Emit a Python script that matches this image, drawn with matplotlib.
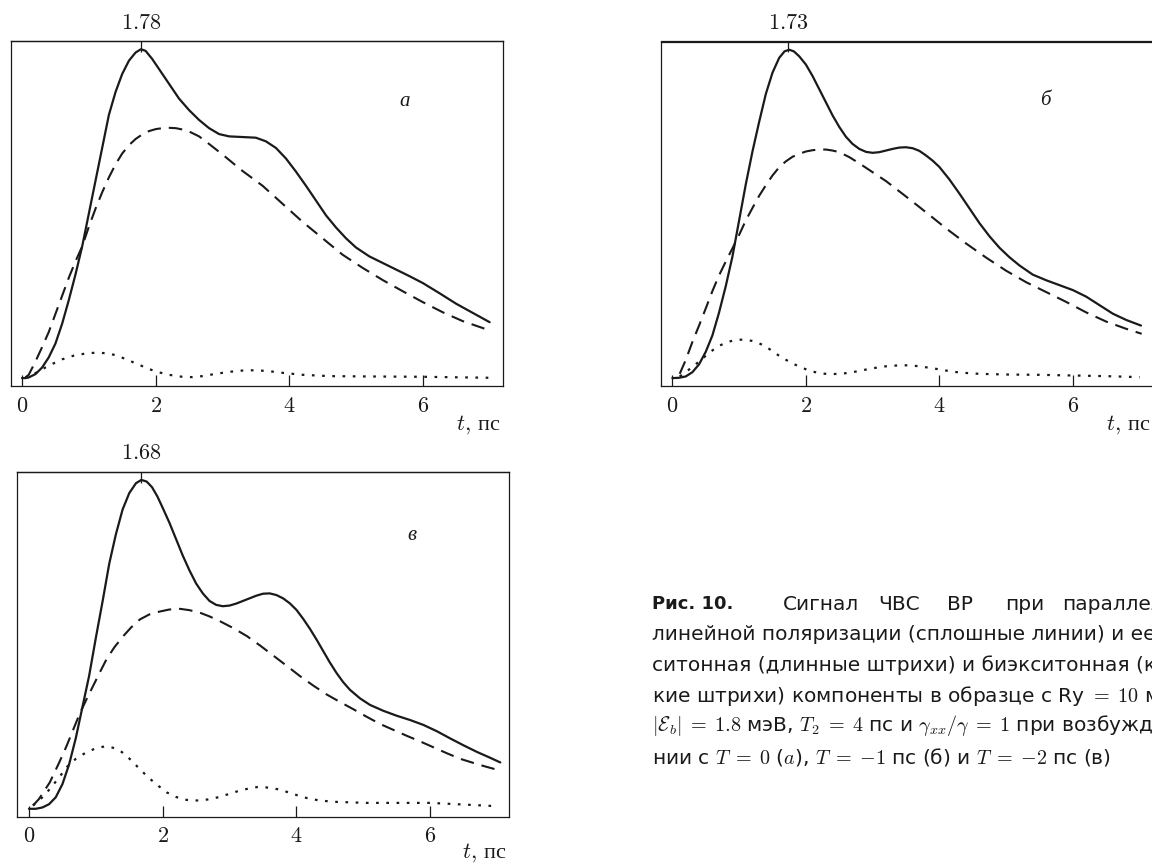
import matplotlib
matplotlib.use("Agg")
import matplotlib.pyplot as plt

plt.rcParams['mathtext.fontset'] = 'cm'

# ---------------- data ----------------
# Panel а
a_solid_t = [0.0, 0.05, 0.1, 0.2, 0.3, 0.4, 0.5, 0.6, 0.7, 0.8, 0.9, 1.0, 1.1, 1.2, 1.3, 1.4, 1.5, 1.6, 1.7, 1.78, 1.85, 1.95, 2.05, 2.2, 2.35, 2.5, 2.65, 2.8, 2.95, 3.1, 3.3, 3.5, 3.65, 3.8, 3.95, 4.1, 4.25, 4.4, 4.55, 4.7, 4.85, 5.0, 5.2, 5.4, 5.6, 5.8, 6.0, 6.25, 6.5, 6.75, 7.0]
a_solid_v = [0.0, 0.0, 0.002, 0.012, 0.032, 0.063, 0.105, 0.165, 0.237, 0.315, 0.40, 0.50, 0.60, 0.70, 0.80, 0.87, 0.925, 0.965, 0.99, 1.0, 0.995, 0.97, 0.94, 0.895, 0.85, 0.815, 0.785, 0.76, 0.742, 0.735, 0.733, 0.731, 0.72, 0.70, 0.668, 0.628, 0.585, 0.54, 0.495, 0.458, 0.425, 0.397, 0.37, 0.35, 0.33, 0.31, 0.289, 0.258, 0.226, 0.198, 0.17]
a_dash_t = [0.05, 0.1, 0.2, 0.3, 0.4, 0.5, 0.6, 0.7, 0.8, 0.9, 1.0, 1.1, 1.2, 1.3, 1.4, 1.5, 1.6, 1.7, 1.8, 1.9, 2.0, 2.1, 2.2, 2.3, 2.4, 2.5, 2.65, 2.8, 3.0, 3.3, 3.6, 3.9, 4.2, 4.5, 4.8, 5.1, 5.4, 5.7, 6.0, 6.3, 6.6, 7.0]
a_dash_v = [0.002, 0.01, 0.05, 0.094, 0.14, 0.195, 0.25, 0.305, 0.355, 0.40, 0.46, 0.515, 0.565, 0.61, 0.65, 0.683, 0.708, 0.727, 0.741, 0.751, 0.757, 0.76, 0.761, 0.76, 0.756, 0.75, 0.735, 0.712, 0.68, 0.63, 0.585, 0.53, 0.475, 0.425, 0.375, 0.335, 0.298, 0.264, 0.231, 0.20, 0.173, 0.145]
a_dot_t = [0.05, 0.2, 0.4, 0.6, 0.8, 1.0, 1.1, 1.25, 1.4, 1.55, 1.7, 1.85, 2.0, 2.2, 2.4, 2.55, 2.7, 2.9, 3.1, 3.3, 3.5, 3.7, 3.9, 4.2, 4.6, 5.2, 6.0, 7.0]
a_dot_v = [0.001, 0.015, 0.038, 0.057, 0.07, 0.076, 0.077, 0.076, 0.07, 0.058, 0.045, 0.032, 0.02, 0.01, 0.004, 0.003, 0.006, 0.013, 0.019, 0.023, 0.024, 0.021, 0.016, 0.01, 0.006, 0.005, 0.004, 0.001]

# Panel б
b_solid_t = [0.0, 0.1, 0.2, 0.3, 0.4, 0.5, 0.6, 0.7, 0.8, 0.9, 1.0, 1.1, 1.2, 1.3, 1.4, 1.5, 1.6, 1.68, 1.75, 1.82, 1.9, 2.0, 2.1, 2.2, 2.3, 2.4, 2.5, 2.6, 2.7, 2.8, 2.9, 3.0, 3.1, 3.2, 3.3, 3.4, 3.5, 3.6, 3.7, 3.8, 3.9, 4.0, 4.15, 4.3, 4.45, 4.6, 4.75, 4.9, 5.05, 5.2, 5.4, 5.6, 5.8, 6.0, 6.2, 6.4, 6.6, 6.8, 7.02]
b_solid_v = [0.0, 0.001, 0.005, 0.018, 0.042, 0.08, 0.13, 0.20, 0.28, 0.37, 0.48, 0.59, 0.69, 0.78, 0.865, 0.93, 0.975, 0.995, 1.0, 0.995, 0.98, 0.955, 0.92, 0.88, 0.84, 0.80, 0.765, 0.735, 0.713, 0.698, 0.689, 0.686, 0.688, 0.693, 0.698, 0.702, 0.703, 0.70, 0.692, 0.678, 0.662, 0.643, 0.605, 0.562, 0.517, 0.472, 0.432, 0.397, 0.368, 0.343, 0.315, 0.298, 0.283, 0.268, 0.248, 0.222, 0.196, 0.177, 0.16]
b_dash_t = [0.11, 0.2, 0.3, 0.4, 0.5, 0.6, 0.7, 0.8, 0.9, 1.0, 1.1, 1.2, 1.3, 1.4, 1.5, 1.6, 1.7, 1.8, 1.9, 2.0, 2.1, 2.2, 2.3, 2.4, 2.5, 2.65, 2.8, 3.0, 3.2, 3.5, 3.8, 4.1, 4.4, 4.7, 5.0, 5.3, 5.6, 5.9, 6.2, 6.5, 6.8, 7.03]
b_dash_v = [0.013, 0.055, 0.11, 0.16, 0.212, 0.265, 0.313, 0.355, 0.395, 0.436, 0.48, 0.518, 0.555, 0.587, 0.617, 0.642, 0.66, 0.674, 0.683, 0.69, 0.694, 0.696, 0.696, 0.693, 0.688, 0.673, 0.654, 0.627, 0.60, 0.553, 0.505, 0.456, 0.41, 0.367, 0.327, 0.292, 0.262, 0.232, 0.20, 0.172, 0.15, 0.135]
b_dot_t = [0.11, 0.2, 0.36, 0.5, 0.66, 0.8, 0.9, 1.0, 1.1, 1.2, 1.3, 1.4, 1.5, 1.6, 1.75, 1.9, 2.05, 2.2, 2.35, 2.5, 2.65, 2.8, 3.0, 3.2, 3.4, 3.55, 3.7, 3.9, 4.1, 4.3, 4.6, 5.0, 5.5, 6.0, 6.5, 7.0]
b_dot_v = [0.005, 0.018, 0.044, 0.068, 0.094, 0.108, 0.114, 0.117, 0.117, 0.113, 0.106, 0.096, 0.082, 0.068, 0.05, 0.035, 0.023, 0.015, 0.012, 0.013, 0.016, 0.022, 0.03, 0.036, 0.039, 0.039, 0.036, 0.03, 0.023, 0.017, 0.013, 0.011, 0.01, 0.008, 0.006, 0.003]

# Panel в
c_solid_t = [0.0, 0.1, 0.2, 0.3, 0.4, 0.5, 0.6, 0.7, 0.8, 0.9, 1.0, 1.1, 1.2, 1.3, 1.4, 1.5, 1.6, 1.68, 1.76, 1.84, 1.92, 2.0, 2.1, 2.2, 2.3, 2.4, 2.5, 2.6, 2.7, 2.8, 2.9, 3.0, 3.1, 3.2, 3.3, 3.4, 3.5, 3.6, 3.7, 3.8, 3.9, 4.0, 4.1, 4.2, 4.3, 4.4, 4.5, 4.6, 4.7, 4.8, 4.95, 5.1, 5.3, 5.5, 5.7, 5.9, 6.1, 6.3, 6.5, 6.7, 6.9, 7.05]
c_solid_v = [0.0, 0.0, 0.004, 0.014, 0.035, 0.075, 0.135, 0.215, 0.31, 0.405, 0.52, 0.63, 0.745, 0.835, 0.91, 0.96, 0.99, 1.0, 0.995, 0.978, 0.95, 0.915, 0.87, 0.82, 0.77, 0.725, 0.685, 0.655, 0.632, 0.62, 0.616, 0.618, 0.624, 0.632, 0.64, 0.648, 0.654, 0.655, 0.65, 0.64, 0.625, 0.605, 0.578, 0.548, 0.515, 0.48, 0.445, 0.413, 0.385, 0.362, 0.336, 0.316, 0.298, 0.283, 0.27, 0.255, 0.236, 0.214, 0.193, 0.173, 0.155, 0.141]
c_dash_t = [0.06, 0.15, 0.31, 0.45, 0.56, 0.66, 0.76, 0.86, 0.96, 1.06, 1.16, 1.28, 1.41, 1.53, 1.66, 1.8, 1.96, 2.1, 2.26, 2.4, 2.56, 2.7, 2.86, 3.06, 3.26, 3.46, 3.66, 3.86, 4.05, 4.25, 4.45, 4.65, 4.85, 5.05, 5.25, 5.45, 5.65, 5.85, 6.05, 6.25, 6.45, 6.75, 7.05]
c_dash_v = [0.01, 0.03, 0.08, 0.14, 0.19, 0.24, 0.29, 0.333, 0.374, 0.415, 0.455, 0.492, 0.525, 0.552, 0.576, 0.591, 0.60, 0.606, 0.608, 0.604, 0.596, 0.585, 0.57, 0.549, 0.525, 0.496, 0.465, 0.434, 0.404, 0.375, 0.348, 0.325, 0.303, 0.28, 0.258, 0.24, 0.222, 0.205, 0.187, 0.169, 0.152, 0.133, 0.116]
c_dot_t = [0.06, 0.2, 0.31, 0.45, 0.56, 0.7, 0.86, 1.0, 1.14, 1.25, 1.36, 1.46, 1.56, 1.68, 1.81, 1.94, 2.06, 2.2, 2.32, 2.45, 2.6, 2.75, 2.9, 3.06, 3.25, 3.41, 3.55, 3.71, 3.85, 4.0, 4.15, 4.35, 4.6, 5.05, 5.5, 6.0, 6.5, 7.0]
c_dot_v = [0.01, 0.035, 0.06, 0.095, 0.126, 0.152, 0.172, 0.184, 0.19, 0.186, 0.177, 0.161, 0.141, 0.116, 0.091, 0.069, 0.05, 0.036, 0.028, 0.025, 0.026, 0.031, 0.039, 0.05, 0.06, 0.066, 0.065, 0.06, 0.052, 0.042, 0.033, 0.025, 0.021, 0.018, 0.018, 0.018, 0.013, 0.008]

x_ticks = [0, 2, 4, 6]
x_tick_labels = ['0', '2', '4', '6']
peak_pos = [1.78, 1.73, 1.68]
peak_labels = ['1.78', '1.73', '1.68']
panel_letters = ['а', 'б', 'в']
x_label = 'пс'

caption_word1 = ['Сигнал', 'ЧВС', 'ВР', 'при', 'параллельной']
caption_lines = [
    'линейной поляризации (сплошные линии) и ее экс-',
    'ситонная (длинные штрихи) и биэкситонная (корот-',
    r'кие штрихи) компоненты в образце с Ry $=\;10$ мэВ,',
    r'$|\mathcal{E}_b|\;=\;1.8$ мэВ, $T_2\;=\;4$ пс и $\gamma_{xx}/\gamma\;=\;1$ при возбужде-',
    r'нии с $T\;=\;0$ ($a$), $T\;=\;{-1}$ пс (б) и $T\;=\;{-2}$ пс (в)',
]

# ---------------- layout ----------------
W, H = 1152, 864
fig = plt.figure(figsize=(W / 100, H / 100), dpi=100)


def rect(l, t, r, b):
    return [l / W, 1 - b / H, (r - l) / W, (b - t) / H]


panels = [
    dict(rect=rect(11, 41, 503, 386), xlim=(-0.165, 7.2), solid=(a_solid_t, a_solid_v),
         dash=(a_dash_t, a_dash_v), dot=(a_dot_t, a_dot_v), letter_xy=(5.73, 0.84), lab_y=-0.113),
    dict(rect=rect(661, 41.5, 1153, 386), xlim=(-0.17, 7.2), solid=(b_solid_t, b_solid_v),
         dash=(b_dash_t, b_dash_v), dot=(b_dot_t, b_dot_v), letter_xy=(5.58, 0.845), lab_y=-0.113),
    dict(rect=rect(16.7, 471.7, 509, 816.7), xlim=(-0.184, 7.18), solid=(c_solid_t, c_solid_v),
         dash=(c_dash_t, c_dash_v), dot=(c_dot_t, c_dot_v), letter_xy=(5.73, 0.83), lab_y=-0.105),
]

ink = '#1a1a1a'
for i, p in enumerate(panels):
    ax = fig.add_axes(p['rect'])
    ax.plot(*p['solid'], color=ink, lw=1.6, solid_joinstyle='round', solid_capstyle='round')
    ax.plot(*p['dash'], color=ink, lw=1.5, linestyle=(0, (6.5, 3.8)), dash_capstyle='butt')
    ax.plot(*p['dot'], color=ink, lw=1.6, linestyle=(0, (1.2, 3.4)), dash_capstyle='butt')
    ax.set_xlim(*p['xlim'])
    ax.set_ylim(-0.024, 1.025)
    ax.set_yticks([])
    ax.set_xticks(x_ticks)
    ax.set_xticklabels(['$%s$' % s for s in x_tick_labels], fontsize=16)
    ax.tick_params(axis='x', direction='in', length=8, width=0.9, pad=7, colors=ink)
    for sp in ax.spines.values():
        sp.set_linewidth(0.9)
        sp.set_color(ink)
    sec = ax.secondary_xaxis('top')
    sec.set_xticks([peak_pos[i]])
    sec.set_xticklabels(['$%s$' % peak_labels[i]], fontsize=16)
    sec.tick_params(direction='in', length=8, width=0.9, pad=6, colors=ink)
    sec.spines['top'].set_linewidth(0.9)
    sec.spines['top'].set_color(ink)
    ax.text(p['letter_xy'][0], p['letter_xy'][1], panel_letters[i], fontsize=15,
            fontstyle='italic', family='Liberation Serif', ha='center', va='center', color=ink)
    ax.text(0.994, p['lab_y'], r'$t,\,$' + x_label, transform=ax.transAxes, ha='right', va='center',
            fontsize=16, family='Liberation Serif', color=ink)

# ---------------- caption ----------------
cap_x = 652
line_y = [604 + 30.5 * k for k in range(6)]
fs = 14.5
fig.text(cap_x / W, 1 - line_y[0] / H, 'Рис. 10.', fontsize=13, fontweight='bold',
         family='DejaVu Sans', va='center', ha='left', color=ink)
word_x = [783, 878, 947, 1005, 1062]
for wx, w in zip(word_x, caption_word1):
    fig.text(wx / W, 1 - line_y[0] / H, w, fontsize=fs, family='DejaVu Sans',
             va='center', ha='left', color=ink)
for k, line in enumerate(caption_lines):
    fig.text(cap_x / W, 1 - line_y[k + 1] / H, line, fontsize=fs, family='DejaVu Sans',
             va='center', ha='left', color=ink)

fig.savefig('out.png', dpi=100)
